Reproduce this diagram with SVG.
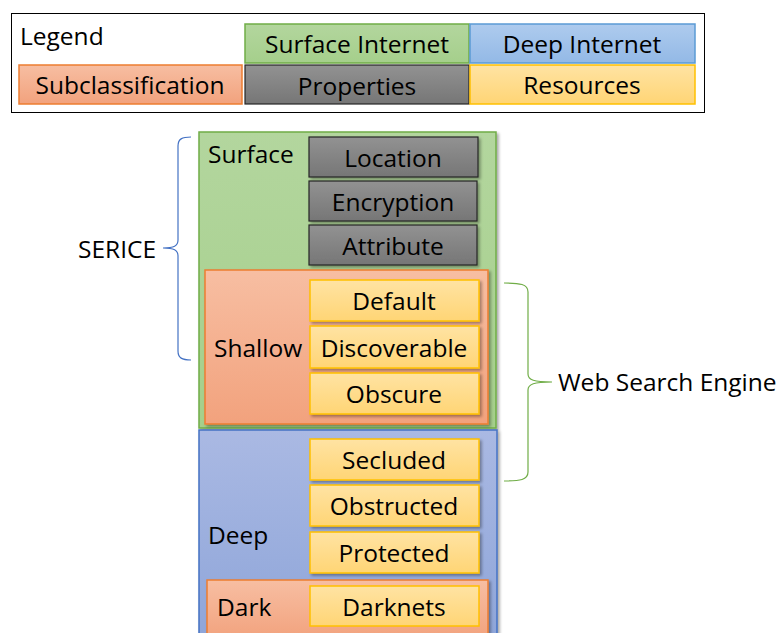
<svg xmlns="http://www.w3.org/2000/svg" width="783" height="633" viewBox="0 0 783 633">
  <defs>
    <linearGradient id="gGreen" x1="0" y1="0" x2="0" y2="1">
      <stop offset="0" stop-color="#b3d69e"/>
      <stop offset="1" stop-color="#a5cf8b"/>
    </linearGradient>
    <linearGradient id="gBlue" x1="0" y1="0" x2="0" y2="1">
      <stop offset="0" stop-color="#aab9e3"/>
      <stop offset="1" stop-color="#8ea5d9"/>
    </linearGradient>
    <linearGradient id="gLegendBlue" x1="0" y1="0" x2="0" y2="1">
      <stop offset="0" stop-color="#aecbee"/>
      <stop offset="1" stop-color="#93b9e6"/>
    </linearGradient>
    <linearGradient id="gOrange" x1="0" y1="0" x2="0" y2="1">
      <stop offset="0" stop-color="#f7bea2"/>
      <stop offset="1" stop-color="#f2a27d"/>
    </linearGradient>
    <linearGradient id="gGray" x1="0" y1="0" x2="0" y2="1">
      <stop offset="0" stop-color="#929292"/>
      <stop offset="1" stop-color="#767676"/>
    </linearGradient>
    <linearGradient id="gYellow" x1="0" y1="0" x2="0" y2="1">
      <stop offset="0" stop-color="#ffe3a3"/>
      <stop offset="1" stop-color="#ffd575"/>
    </linearGradient>
    <filter id="shadow" x="-10%" y="-10%" width="125%" height="130%">
      <feDropShadow dx="2" dy="2" stdDeviation="1.5" flood-color="#000" flood-opacity="0.35"/>
    </filter>
  </defs>
  <style>
    text { font-family: "Open Sans", "Noto Sans", "Liberation Sans", sans-serif; font-size: 24.5px; fill: #000; }
    .c { text-anchor: middle; }
    .green { fill: url(#gGreen); stroke: #70ad47; stroke-width: 1.5; }
    .blue { fill: url(#gBlue); stroke: #4472c4; stroke-width: 1.5; }
    .lblue { fill: url(#gLegendBlue); stroke: #5b9bd5; stroke-width: 1.5; }
    .orange { fill: url(#gOrange); stroke: #ed7d31; stroke-width: 1.5; }
    .gray { fill: url(#gGray); stroke: #262626; stroke-width: 1.2; }
    .yellow { fill: url(#gYellow); stroke: #ffc000; stroke-width: 1.5; }
    .sh { filter: url(#shadow); }
  </style>

  <rect width="783" height="633" fill="#fff"/>

  <!-- Legend -->
  <g id="legend">
    <rect x="11.5" y="13.5" width="693" height="99" fill="#fff" stroke="#000" stroke-width="1"/>
    <text x="20" y="45">Legend</text>
    <rect class="green" x="245" y="24" width="224" height="39"/>
    <text class="c" x="357" y="53">Surface Internet</text>
    <rect class="lblue" x="470" y="24" width="225" height="39"/>
    <text class="c" x="582" y="53">Deep Internet</text>
    <rect class="orange" x="19" y="65" width="223" height="39"/>
    <text class="c" x="130" y="94">Subclassification</text>
    <rect class="gray" x="245" y="65" width="224" height="39"/>
    <text class="c" x="357" y="95">Properties</text>
    <rect class="yellow" x="470" y="65" width="225" height="39"/>
    <text class="c" x="582" y="94">Resources</text>
  </g>

  <!-- Surface layer -->
  <g id="surface">
    <rect class="green sh" x="199" y="132" width="297" height="296"/>
    <text x="208" y="163">Surface</text>
  </g>
  <g id="location">
    <rect class="gray sh" x="309" y="137" width="169" height="40"/>
    <text class="c" x="393" y="167">Location</text>
  </g>
  <g id="encryption">
    <rect class="gray sh" x="309" y="181" width="168" height="40"/>
    <text class="c" x="393" y="211">Encryption</text>
  </g>
  <g id="attribute">
    <rect class="gray sh" x="309" y="225" width="168" height="40"/>
    <text class="c" x="393" y="255">Attribute</text>
  </g>

  <!-- Shallow subclassification -->
  <g id="shallow">
    <rect class="orange sh" x="205" y="270" width="283" height="154"/>
    <text x="214" y="357">Shallow</text>
  </g>
  <g id="default">
    <rect class="yellow sh" x="310" y="280" width="169" height="41"/>
    <text class="c" x="394" y="310">Default</text>
  </g>
  <g id="discoverable">
    <rect class="yellow sh" x="310" y="326" width="169" height="42"/>
    <text class="c" x="394" y="357">Discoverable</text>
  </g>
  <g id="obscure">
    <rect class="yellow sh" x="310" y="373" width="169" height="41"/>
    <text class="c" x="394" y="403">Obscure</text>
  </g>

  <!-- Deep layer -->
  <g id="deep">
    <rect class="blue sh" x="199" y="430" width="298" height="210"/>
    <text x="208" y="544">Deep</text>
  </g>
  <g id="secluded">
    <rect class="yellow sh" x="310" y="439" width="169" height="41"/>
    <text class="c" x="394" y="469">Secluded</text>
  </g>
  <g id="obstructed">
    <rect class="yellow sh" x="310" y="485" width="169" height="41"/>
    <text class="c" x="394" y="515">Obstructed</text>
  </g>
  <g id="protected">
    <rect class="yellow sh" x="310" y="532" width="169" height="41"/>
    <text class="c" x="394" y="562">Protected</text>
  </g>

  <!-- Dark subclassification -->
  <g id="dark">
    <rect class="orange sh" x="207" y="580" width="281" height="60"/>
    <text x="217" y="616">Dark</text>
  </g>
  <g id="darknets">
    <rect class="yellow" x="310" y="586" width="169" height="40"/>
    <text class="c" x="394" y="616">Darknets</text>
  </g>

  <!-- Braces -->
  <g id="connectors" fill="none" stroke-width="1.2">
    <path d="M191,137 C182,137 178,139 178,146 L178,240 C178,246 174,248 163,248 C174,248 178,250 178,256 L178,351 C178,358 182,360 191,360" stroke="#4472c4"/>
    <path d="M504,283 C520,283 528,284 528,292 L528,374 C528,380 534,382 552,382 C534,382 528,384 528,390 L528,472 C528,480 520,481 504,481" stroke="#70ad47"/>
  </g>
  <g id="serice">
    <text x="78" y="258">SERICE</text>
  </g>
  <g id="web-search-engine">
    <text x="558" y="391">Web Search Engine</text>
  </g>
</svg>
